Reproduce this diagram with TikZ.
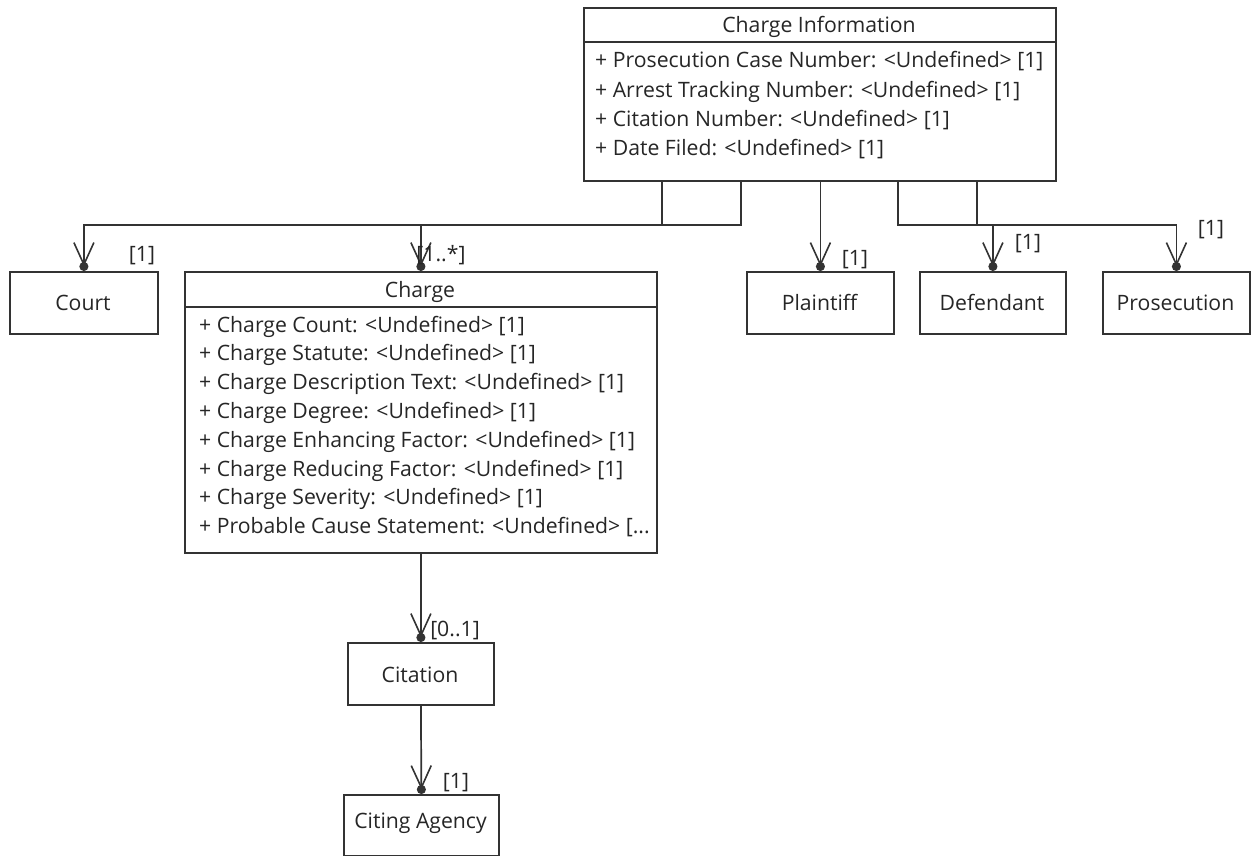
\documentclass[tikz,border=0pt]{standalone}
\usepackage{fontspec}
\setmainfont{Open Sans}
\usetikzlibrary{arrows.meta,calc}
\definecolor{ink}{HTML}{333333}
\definecolor{txt}{HTML}{262626}
\begin{document}
\begin{tikzpicture}[x=1pt,y=-1pt,
  classbox/.style={draw=ink, line width=1.8pt, fill=white, inner sep=0pt, anchor=north west},
  lbl/.style={text=txt, font=\fontsize{21.2}{25}\selectfont, inner sep=0pt},
  sep line/.style={draw=ink, line width=1.8pt},
  assoc/.style={draw=ink, line width=1.7pt,
    -{Straight Barb[length=22pt,width=20pt,line width=1.6pt,sep=-4.5pt]Circle[length=9pt,sep=0pt]}},
]
\fill[white] (0,0) rectangle (1255,856);
\useasboundingbox (0,0) rectangle (1255,856);

% ---- Charge Information class
\node[classbox, minimum width=472pt, minimum height=173pt] (info) at (583,7) {};
\node[lbl, anchor=base] (infotitle) at (819,33) {Charge Information};
\draw[sep line] ($(info.north west)+(0,35)$) -- ($(info.north east)+(0,35)$);
\foreach \t [count=\i] in {
  {+ Prosecution Case Number: <Undefined> [1]},
  {+ Arrest Tracking Number: <Undefined> [1]},
  {+ Citation Number: <Undefined> [1]},
  {+ Date Filed: <Undefined> [1]}}
  \node[lbl, anchor=base west] (ia\i) at (595,{68+29.3*(\i-1)}) {\t};

% ---- Charge class
\node[classbox, minimum width=472pt, minimum height=281pt] (charge) at (184,271) {};
\node[lbl, anchor=base] (chargetitle) at (420,297) {Charge};
\draw[sep line] ($(charge.north west)+(0,36)$) -- ($(charge.north east)+(0,36)$);
\foreach \t [count=\i] in {
  {+ Charge Count: <Undefined> [1]},
  {+ Charge Statute: <Undefined> [1]},
  {+ Charge Description Text: <Undefined> [1]},
  {+ Charge Degree: <Undefined> [1]},
  {+ Charge Enhancing Factor: <Undefined> [1]},
  {+ Charge Reducing Factor: <Undefined> [1]},
  {+ Charge Severity: <Undefined> [1]}}
  \node[lbl, anchor=base west] (ca\i) at (199,{332+28.8*(\i-1)}) {\t};
\node[lbl, anchor=base west] (ca8) at (199,{332+28.8*7}) {+ Probable Cause Statement: <Undefined> [...};

% ---- simple classes
\node[classbox, minimum width=148pt, minimum height=62pt] (court) at (9,271) {};
\node[lbl, anchor=base] (courttext) at (83,310) {Court};
\node[classbox, minimum width=147pt, minimum height=62pt] (plaintiff) at (746,271) {};
\node[lbl, anchor=base] (plaintifftext) at (819.5,310) {Plaintiff};
\node[classbox, minimum width=146pt, minimum height=62pt] (defendant) at (919,271) {};
\node[lbl, anchor=base] (defendanttext) at (992,310) {Defendant};
\node[classbox, minimum width=147pt, minimum height=62pt] (prosecution) at (1102,271) {};
\node[lbl, anchor=base] (prosecutiontext) at (1175.5,310) {Prosecution};
\node[classbox, minimum width=146pt, minimum height=62pt] (citation) at (347,642) {};
\node[lbl, anchor=base] (citationtext) at (420,682) {Citation};
\node[classbox, minimum width=155pt, minimum height=61pt] (agency) at (343,794) {};
\node[lbl, anchor=base] (agencytext) at (420.5,828) {Citing Agency};

% ---- associations
\draw[assoc] ($(info.south west)+(79,0)$) -- ++(0,43) -| (court.north);
\draw[assoc] ($(info.south west)+(158,0)$) -- ++(0,43) -| (charge.north);
\draw[assoc] (plaintiff.north |- info.south) -- (plaintiff.north);
\draw[assoc] ($(info.south west)+(315,0)$) -- ++(0,43) -| (defendant.north);
\draw[assoc] ($(info.south west)+(394,0)$) -- ++(0,43) -| (prosecution.north);
\draw[assoc] (charge.south) -- (citation.north);
\draw[assoc] (citation.south) -- (agency.north);

% ---- multiplicities
\node[lbl] (mcourt) at (142,256) {[1]};
\node[lbl] (mcharge) at (441,255) {[1..*]};
\node[lbl] (mplaintiff) at (855,260) {[1]};
\node[lbl] (mdefendant) at (1028,244) {[1]};
\node[lbl] (mprosecution) at (1211,230) {[1]};
\node[lbl] (mcitation) at (455,630) {[0..1]};
\node[lbl] (magency) at (456,783) {[1]};
\end{tikzpicture}
\end{document}
